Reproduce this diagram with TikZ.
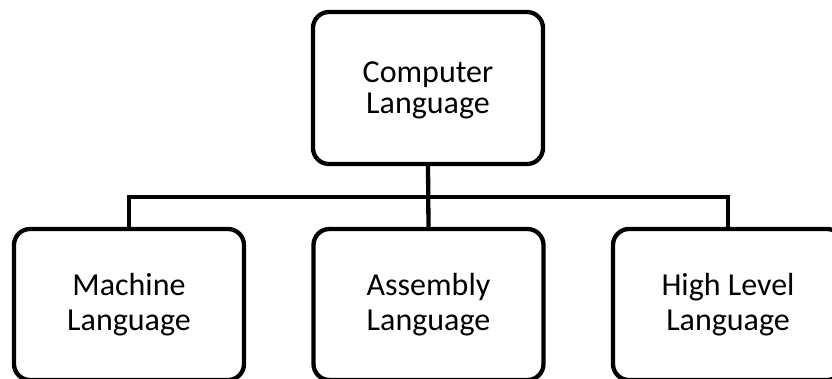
\documentclass[tikz,border=0pt]{standalone}
\usepackage{fontspec}
\setmainfont{Carlito}
\begin{document}
\begin{tikzpicture}[x=1pt,y=-1pt,
  box/.style={draw, line width=4.3pt, rounded corners=16pt, minimum width=230pt,
    align=center, inner sep=0pt},
  topfont/.style={font=\fontsize{32}{31}\selectfont, text depth=0pt},
  lowfont/.style={font=\fontsize{32}{35}\selectfont, text depth=5pt},
  link/.style={line width=4.3pt}]
\useasboundingbox (0,0) rectangle (832,378);
\clip (0,0) rectangle (832,378);
\node[box, topfont, minimum height=152pt] (top) at (428,88) {Computer\\Language};
\node[box, lowfont, minimum height=151pt] (left) at (129,304.5) {Machine\\Language};
\node[box, lowfont, minimum height=151pt] (mid) at (428.5,304.5) {Assembly\\Language};
\node[box, lowfont, minimum height=151pt] (right) at (728,304.5) {High Level\\Language};
\coordinate (bus) at (428,197);
\draw[link] (top.south) -- (mid.north);
\draw[link] (left.north) |- (bus) -| (right.north);
\end{tikzpicture}
\end{document}
